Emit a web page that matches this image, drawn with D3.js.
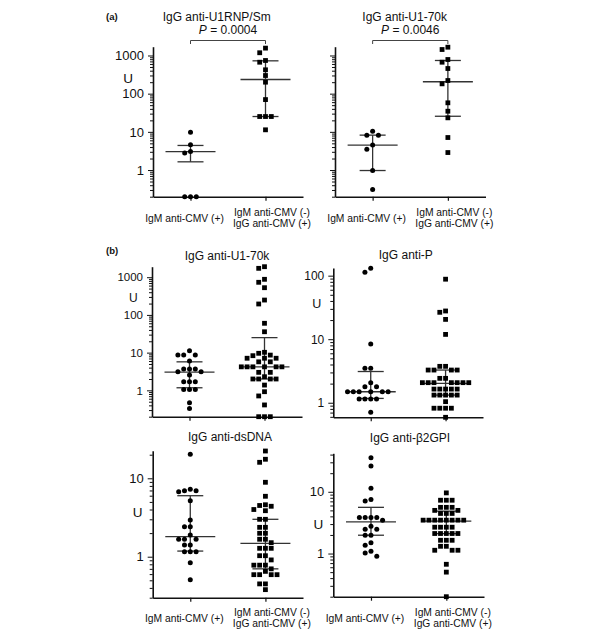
<!DOCTYPE html>
<html>
<head>
<meta charset="utf-8">
<script src="https://cdn.jsdelivr.net/npm/d3@7"></script>
<style>
body { margin: 0; background: #fff; }
svg text { font-family: "Liberation Sans", Arial, sans-serif; fill: #111; }
</style>
</head>
<body>
<svg id="chart" width="600" height="631"></svg>
<script>
// categories (x axis)
const groupLabels = [["IgM anti-CMV (+)"], ["IgM anti-CMV (-)", "IgG anti-CMV (+)"]];

// (a) IgG anti-U1RNP/Sm
const rnpPos = [9.8, 4.6, 3.05, 2.8, 0.2, 0.2, 0.2];
const rnpNeg = [1560, 1180, 740, 667, 422, 299, 200, 70, 25.2, 25.2, 25.2, 11.3];
const rnpMedian = [3.05, 235], rnpLow = [1.64, 25.2], rnpHigh = [4.4, 725];

// (a) IgG anti-U1-70k
const u70aPos = [10.4, 8.2, 8.2, 4.5, 3.5, 0.97, 0.31];
const u70aNeg = [1650, 1435, 785, 667, 456, 221, 181, 57.6, 34.7, 23.3, 7.1, 2.87];
const u70aMedian = [4.5, 205], u70aLow = [0.97, 25.6], u70aHigh = [8.2, 740];

// (b) IgG anti-U1-70k
const u70bPos = [11.2, 8.6, 8.6, 8.6, 6.0, 3.7, 3.7, 3.7, 3.1, 3.1, 2.55, 1.7, 1.7, 1.7, 1.06, 1.06, 1.06, 0.47, 0.33];
const u70bNeg = [1900, 1720, 880, 733, 527, 248, 195, 60, 35.8, 10.2, 9.6, 8.6, 8.3, 7.1, 7.1, 7.1, 5.7, 5.7,
  4.2, 4.2, 4.2, 4.2, 4.2, 4.2, 3.0, 3.0, 2.3, 2.0, 2.0, 2.0, 2.0, 1.38, 0.92, 0.71, 0.41, 0.2, 0.2, 0.2];
const u70bMedian = [3.06, 4.2], u70bLow = [1.17, 2.0], u70bHigh = [5.7, 25];

// (b) IgG anti-P
const pPos = [131, 113, 8.4, 3.48, 3.48, 2.07, 1.79, 1.79, 1.49, 1.49, 1.49, 1.49, 1.49, 1.49, 1.14, 1.14, 1.14, 1.14, 0.71];
const pNeg = [88, 27.8, 26.5, 20.5, 11.9, 3.74, 3.74, 3.27, 3.27, 3.27, 3.27, 2.42, 2.42,
  2.07, 2.07, 2.07, 2.07, 2.07, 2.07, 2.07, 1.64, 1.64, 1.64, 1.64, 1.64,
  1.32, 1.32, 1.32, 1.32, 1.32, 1.04, 0.82, 0.82, 0.82, 0.82, 0.59];
const pMedian = [1.49, 2.02], pLow = [1.17, 1.32], pHigh = [3.1, 3.27];

// (b) IgG anti-dsDNA
const dsPos = [20.2, 7.24, 6.95, 6.95, 6.75, 5.18, 2.94, 2.41, 2.41, 1.89, 1.67, 1.67, 1.67, 1.41, 1.41, 1.16, 1.16, 1.16, 0.84, 0.51];
const dsNeg = [22.3, 17.5, 16.0, 8.9, 5.9, 4.6, 4.5, 4.4, 4.0, 3.86, 3.0, 3.0, 2.37, 2.37, 1.99, 1.99, 1.67, 1.67, 1.51,
  1.28, 1.28, 1.28, 1.03, 1.03, 0.91, 0.78, 0.78, 0.78, 0.70, 0.65, 0.59, 0.59, 0.59, 0.59, 0.45, 0.45, 0.38];
const dsMedian = [1.8, 1.48], dsLow = [1.18, 0.70], dsHigh = [6.0, 3.0];

// (b) IgG anti-β2GPI
const gpiPos = [35.6, 26.1, 11.4, 7.5, 7.1, 3.84, 3.84, 3.84, 3.84, 3.46, 2.77, 2.48, 2.48, 1.98, 1.98, 1.49, 1.36, 1.09, 1.02, 0.90];
const gpiNeg = [9.6, 7.3, 7.3, 7.3, 5.6, 5.6, 5.6, 5.0, 5.0, 4.46, 4.46, 4.46,
  3.47, 3.47, 3.47, 3.47, 3.47, 3.47, 3.47, 3.47, 2.67, 2.67, 2.67, 2.67,
  2.11, 2.11, 2.11, 2.11, 2.11, 1.64, 1.64, 1.64, 1.31, 1.31, 1.13, 1.13, 1.13, 0.67, 0.50, 0.2];
const gpiMedian = [3.26, 3.35], gpiLow = [1.98, 2.1], gpiHigh = [5.6, 4.86];

// tick labels
const ticksA1 = [1, 10, 100, 1000];
const ticksA2 = [];
const ticksB1 = [1, 10, 100, 1000];
const ticksB2 = [1, 10, 100];
const ticksB3 = [1, 10];
const ticksB4 = [1, 10];

const panels = [
  {title: "IgG anti-U1RNP/Sm", pval: "0.0004", pos: rnpPos, neg: rnpNeg, med: rnpMedian, low: rnpLow, high: rnpHigh, labels: ticksA1,
   x0: 153, x1: 303, y0: 196.7, y1: 46.7, lo: 0.2, hi: 1700, tx: 216.7, ty: 20.5, fs: 13, ux: 128, uy: 83, cat: 218},
  {title: "IgG anti-U1-70k", pval: "0.0046", pos: u70aPos, neg: u70aNeg, med: u70aMedian, low: u70aLow, high: u70aHigh, labels: ticksA2,
   x0: 335, x1: 485.5, y0: 196.7, y1: 46.7, lo: 0.2, hi: 1700, tx: 404.7, ty: 20.5, fs: 13, ux: null, cat: 218},
  {title: "IgG anti-U1-70k", pos: u70bPos, neg: u70bNeg, med: u70bMedian, low: u70bLow, high: u70bHigh, labels: ticksB1,
   x0: 152, x1: 302, y0: 416.7, y1: 266.7, lo: 0.2, hi: 1900, tx: 227, ty: 259.5, fs: 11.5, ux: 133.3, uy: 301.5},
  {title: "IgG anti-P", pos: pPos, neg: pNeg, med: pMedian, low: pLow, high: pHigh, labels: ticksB2,
   x0: 333.3, x1: 483, y0: 417.3, y1: 268, lo: 0.59, hi: 132, tx: 405.8, ty: 258.5, fs: 12, ux: 316.7, uy: 307.5},
  {title: "IgG anti-dsDNA", pos: dsPos, neg: dsNeg, med: dsMedian, low: dsLow, high: dsHigh, labels: ticksB3,
   x0: 152.7, x1: 303, y0: 597.7, y1: 450.7, lo: 0.3, hi: 22.5, tx: 230, ty: 441, fs: 13, ux: 137.7, uy: 517, cat: 618},
  {title: "IgG anti-\u03b22GPI", pos: gpiPos, neg: gpiNeg, med: gpiMedian, low: gpiLow, high: gpiHigh, labels: ticksB4,
   x0: 333.3, x1: 484, y0: 596.7, y1: 453.3, lo: 0.2, hi: 42, tx: 410, ty: 442, fs: 13, ux: 318.3, uy: 528.5, cat: 618}
];

const svg = d3.select("#chart");

svg.append("text").attr("x", 106).attr("y", 20).attr("font-size", 9.5).attr("font-weight", "bold").text("(a)");
svg.append("text").attr("x", 106).attr("y", 254).attr("font-size", 9.5).attr("font-weight", "bold").text("(b)");

// simple beeswarm: place each point at the nearest free column
function swarm(values, y, cx, d) {
  const pts = values.map(v => ({v: v, y: y(v)})).sort((a, b) => a.y - b.y);
  const placed = [];
  pts.forEach(p => {
    for (let k = 0; k < 60; k++) {
      const off = k === 0 ? 0 : (k % 2 ? -Math.ceil(k / 2) : Math.ceil(k / 2)) * d;
      const ok = placed.every(q => Math.hypot(q.x - (cx + off), q.y - p.y) >= d * 0.97);
      if (ok) { p.x = cx + off; break; }
    }
    placed.push(p);
  });
  return placed;
}

function logTicks(lo, hi) {
  const out = [];
  for (let e = Math.floor(Math.log10(lo)); e <= Math.ceil(Math.log10(hi)); e++) {
    for (let k = 1; k <= 9; k++) {
      const v = +(k * Math.pow(10, e)).toPrecision(6);
      if (v >= lo * 0.999 && v <= hi * 1.001) out.push(v);
    }
  }
  return out;
}

panels.forEach(p => {
  const g = svg.append("g");
  const y = d3.scaleLog().domain([p.lo, p.hi]).range([p.y0, p.y1]);
  const x = d3.scalePoint().domain([0, 1]).range([p.x0, p.x1]).padding(0.5);

  // y axis
  const tv = logTicks(p.lo, p.hi);
  const yAxis = g.append("g")
    .attr("transform", `translate(${p.x0},0)`)
    .call(d3.axisLeft(y).tickValues(tv).tickSize(3).tickSizeOuter(0).tickPadding(6)
      .tickFormat(v => p.labels.includes(v) ? d3.format("d")(v) : ""));
  yAxis.selectAll(".tick line").attr("x2", v => Math.abs(Math.log10(v) - Math.round(Math.log10(v))) < 1e-6 ? -5 : -3)
    .attr("stroke", "#111").attr("stroke-width", 1);
  yAxis.select(".domain").attr("stroke", "#111").attr("stroke-width", 1.6);
  yAxis.selectAll("text").attr("font-size", p.fs).attr("font-family", "Liberation Sans, Arial, sans-serif").attr("fill", "#111");

  // x axis
  const xAxis = g.append("g")
    .attr("transform", `translate(0,${p.y0})`)
    .call(d3.axisBottom(x).tickSize(4).tickSizeOuter(0).tickFormat(""));
  xAxis.select(".domain").attr("stroke", "#111").attr("stroke-width", 1.6);
  xAxis.selectAll(".tick line").attr("stroke", "#111").attr("stroke-width", 1.2);

  // U label
  if (p.ux !== null) {
    g.append("text").attr("x", p.ux).attr("y", p.uy).attr("text-anchor", "middle")
      .attr("font-size", p.fs + 0.5).text("U");
  }

  // title
  g.append("text").attr("x", p.tx).attr("y", p.ty).attr("text-anchor", "middle")
    .attr("font-size", 12).text(p.title);

  // p value bracket
  if (p.pval) {
    const t = g.append("text").attr("x", x(0) / 2 + x(1) / 2 + 0).attr("y", 34).attr("text-anchor", "middle")
      .attr("font-size", 12);
    t.append("tspan").attr("font-style", "italic").text("P");
    t.append("tspan").text(" = " + p.pval);
    g.append("path")
      .attr("d", `M${x(0)},44 V40.5 H${x(1)} V44`)
      .attr("fill", "none").attr("stroke", "#444").attr("stroke-width", 1);
  }

  // category labels
  if (p.cat) {
    g.append("text").attr("x", x(0) - 6).attr("y", p.cat + 3.7).attr("text-anchor", "middle")
      .attr("font-size", 10.3).text(groupLabels[0][0]);
    groupLabels[1].forEach((s, i) => {
      g.append("text").attr("x", x(1) + 6.5).attr("y", p.cat - 6.2 + i * 11.5 + 3.7).attr("text-anchor", "middle")
        .attr("font-size", 10.3).text(s);
    });
  }

  // median and range bars
  [0, 1].forEach(i => {
    const cx = x(i);
    const lg = g.append("g").attr("stroke", "#333").attr("stroke-width", 1.3);
    lg.append("line").attr("x1", cx).attr("x2", cx).attr("y1", y(p.low[i])).attr("y2", y(p.high[i]));
    lg.append("line").attr("x1", cx - 25).attr("x2", cx + 25).attr("y1", y(p.med[i])).attr("y2", y(p.med[i]));
    lg.append("line").attr("x1", cx - 13).attr("x2", cx + 13).attr("y1", y(p.high[i])).attr("y2", y(p.high[i]));
    lg.append("line").attr("x1", cx - 13).attr("x2", cx + 13).attr("y1", y(p.low[i])).attr("y2", y(p.low[i]));
  });

  // points
  const d = 5.8;
  g.append("g").selectAll("circle")
    .data(swarm(p.pos, y, x(0), d))
    .enter().append("circle")
    .attr("cx", q => q.x).attr("cy", q => q.y).attr("r", 2.5).attr("fill", "#000");
  g.append("g").selectAll("rect")
    .data(swarm(p.neg, y, x(1), d))
    .enter().append("rect")
    .attr("x", q => q.x - 2.4).attr("y", q => q.y - 2.4).attr("width", 4.8).attr("height", 4.8).attr("fill", "#000");
});
</script>
</body>
</html>
